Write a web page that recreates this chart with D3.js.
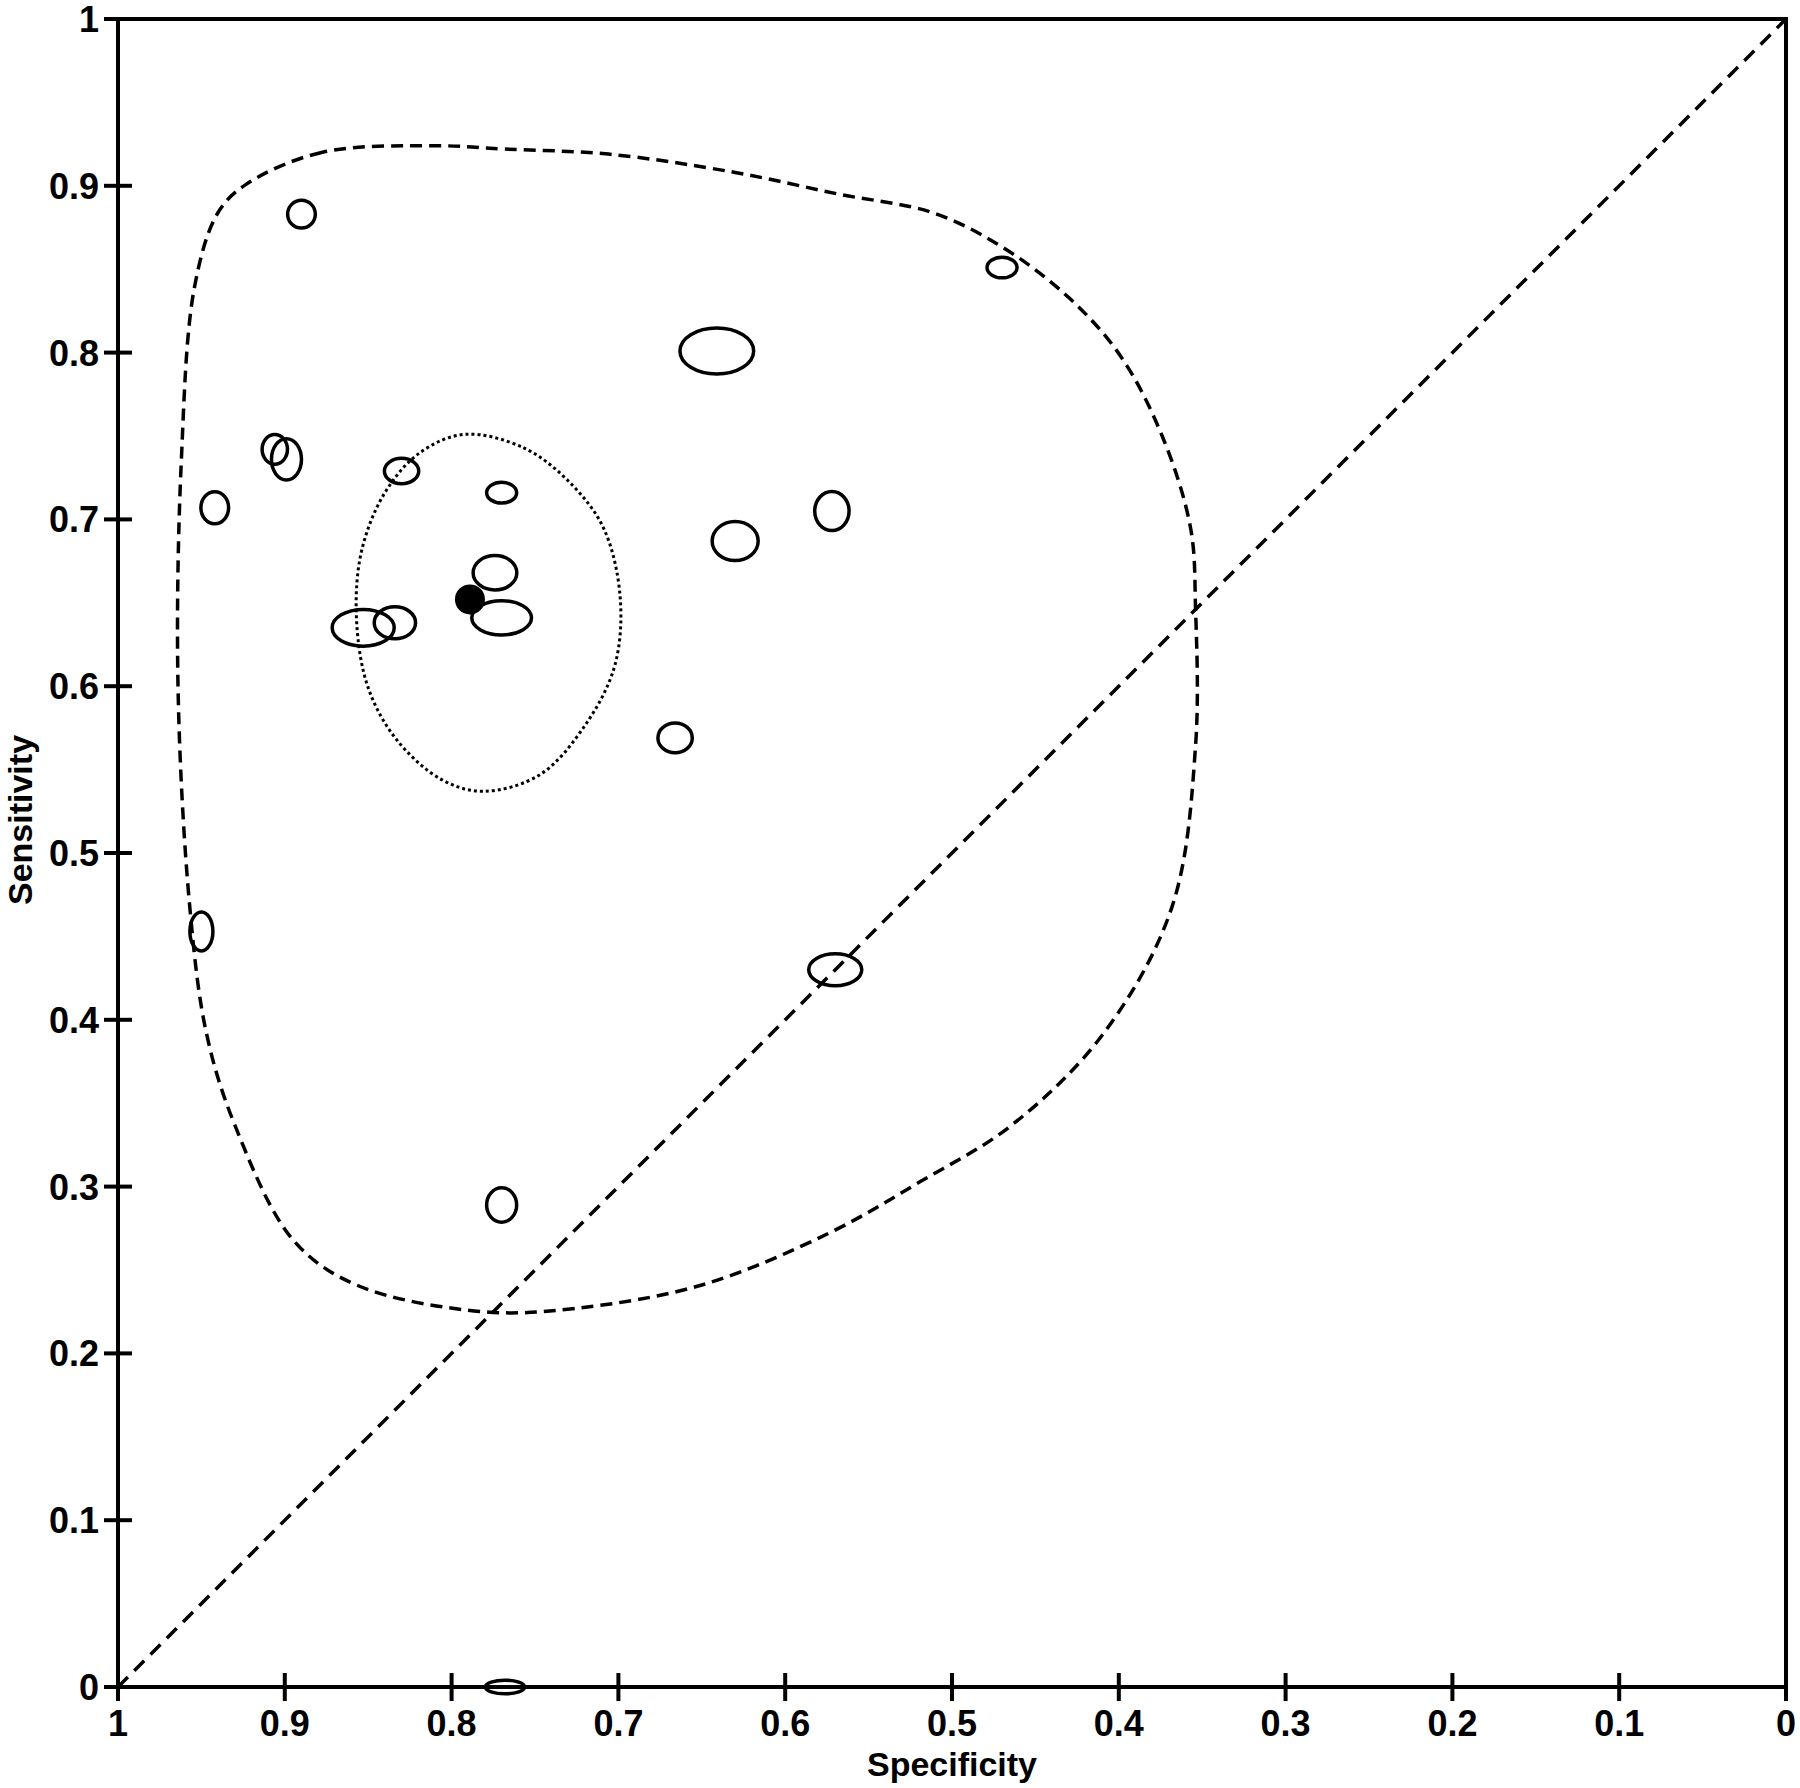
<!DOCTYPE html>
<html><head><meta charset="utf-8">
<script src="https://cdn.jsdelivr.net/npm/d3@7"></script>
<style>body{margin:0;background:#fff}</style>
</head><body><div id="main"></div>
<script>
// study estimates: specificity, sensitivity, ellipse half-widths (value units)
var study_spec = [0.890, 0.470, 0.641, 0.906, 0.899, 0.942, 0.830, 0.770, 0.572, 0.630, 0.774, 0.770, 0.853, 0.834, 0.666, 0.950, 0.570, 0.770, 0.768]
var study_sens = [0.883, 0.851, 0.801, 0.742, 0.736, 0.707, 0.729, 0.716, 0.705, 0.687, 0.668, 0.641, 0.635, 0.638, 0.569, 0.453, 0.430, 0.289, 0.000]
var study_rx = [0.0083, 0.0090, 0.0221, 0.0076, 0.0090, 0.0083, 0.0103, 0.0090, 0.0103, 0.0138, 0.0131, 0.0179, 0.0186, 0.0124, 0.0103, 0.0069, 0.0159, 0.0090, 0.0117]
var study_ry = [0.0083, 0.0062, 0.0138, 0.0089, 0.0124, 0.0096, 0.0076, 0.0062, 0.0117, 0.0117, 0.0103, 0.0103, 0.0110, 0.0096, 0.0089, 0.0117, 0.0096, 0.0103, 0.0041]
var summary = [0.789, 0.652]
var conf_region = [[0.792,0.751],[0.757,0.743],[0.730,0.723],[0.709,0.695],[0.699,0.654],[0.702,0.613],[0.719,0.578],[0.747,0.547],[0.781,0.537],[0.806,0.544],[0.833,0.568],[0.850,0.599],[0.857,0.640],[0.854,0.681],[0.840,0.716],[0.819,0.740]]
var pred_region = [[0.809,0.924],[0.878,0.920],[0.923,0.901],[0.940,0.884],[0.954,0.840],[0.962,0.736],[0.964,0.599],[0.957,0.468],[0.947,0.392],[0.930,0.337],[0.895,0.268],[0.857,0.241],[0.781,0.225],[0.726,0.227],[0.650,0.241],[0.574,0.272],[0.519,0.303],[0.464,0.337],[0.409,0.392],[0.368,0.468],[0.354,0.564],[0.354,0.647],[0.357,0.695],[0.374,0.750],[0.399,0.798],[0.430,0.833],[0.471,0.864],[0.512,0.884],[0.568,0.895],[0.630,0.908],[0.706,0.919],[0.768,0.922]]
var ticks = d3.range(0, 11).map(function (i) { return i / 10 })

var w = 1800
var h = 1788
var svg = d3.select('div#main').append('svg')
  .attr('width', w).attr('height', h)
  .style('font-family', '"Liberation Sans", Arial, sans-serif')

var x = d3.scaleLinear().domain([1, 0]).range([118, 1786])
var y = d3.scaleLinear().domain([0, 1]).range([1687, 19])

svg.append('rect')
  .attr('x', x(1)).attr('y', y(1))
  .attr('width', x(0) - x(1)).attr('height', y(0) - y(1))
  .attr('fill', 'none').attr('stroke', '#000').attr('stroke-width', 4)

ticks.forEach(function (t) {
  svg.append('line').attr('x1', x(1) - 14).attr('x2', x(1) + 14)
    .attr('y1', y(t)).attr('y2', y(t)).attr('stroke', '#000').attr('stroke-width', 4)
  svg.append('line').attr('y1', y(0) - 14).attr('y2', y(0) + 14)
    .attr('x1', x(t)).attr('x2', x(t)).attr('stroke', '#000').attr('stroke-width', 4)
  var lab = t === 0 || t === 1 ? String(t) : t.toFixed(1)
  svg.append('text').text(lab)
    .attr('x', 99).attr('y', y(t) + 13)
    .attr('text-anchor', 'end').style('font-size', '36px').style('font-weight', 'bold')
  svg.append('text').text(lab)
    .attr('x', x(t)).attr('y', 1736)
    .attr('text-anchor', 'middle').style('font-size', '36px').style('font-weight', 'bold')
})

svg.append('text').text('Specificity')
  .attr('x', 952).attr('y', 1776).attr('text-anchor', 'middle')
  .style('font-size', '34px').style('font-weight', 'bold')
svg.append('text').text('Sensitivity')
  .attr('transform', 'translate(32,820) rotate(-90)').attr('text-anchor', 'middle')
  .style('font-size', '34px').style('font-weight', 'bold')

// chance line
svg.append('line').attr('x1', x(1)).attr('y1', y(0)).attr('x2', x(0)).attr('y2', y(1))
  .attr('stroke', '#000').attr('stroke-width', 3.5).attr('stroke-dasharray', '14 9')

var line = d3.line().x(function (d) { return x(d[0]) }).y(function (d) { return y(d[1]) })
  .curve(d3.curveCatmullRomClosed.alpha(0.5))

svg.append('path').attr('d', line(pred_region))
  .attr('fill', 'none').attr('stroke', '#000').attr('stroke-width', 3.5).attr('stroke-dasharray', '12 7')
svg.append('path').attr('d', line(conf_region))
  .attr('fill', 'none').attr('stroke', '#000').attr('stroke-width', 3).attr('stroke-dasharray', '3 3')

var px = x(0) - x(1)
study_spec.forEach(function (s, i) {
  svg.append('ellipse')
    .attr('cx', x(s)).attr('cy', y(study_sens[i]))
    .attr('rx', study_rx[i] * px).attr('ry', study_ry[i] * px)
    .attr('fill', 'none').attr('stroke', '#000').attr('stroke-width', 3.5)
})

svg.append('circle').attr('cx', x(summary[0])).attr('cy', y(summary[1]))
  .attr('r', 15).attr('fill', '#000')
</script>
</body></html>
